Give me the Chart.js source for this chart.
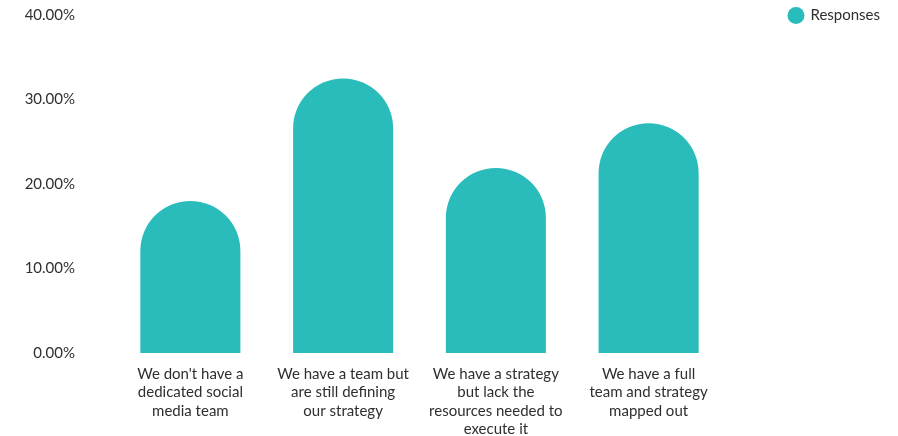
<!DOCTYPE html>
<html>
<head>
<meta charset="utf-8">
<title>Social media team and strategy</title>
<script src="https://cdn.jsdelivr.net/npm/chart.js@4"></script>
<style>
  html, body { margin: 0; padding: 0; background: #ffffff; }
  #wrap { width: 898px; height: 436px; }
</style>
</head>
<body>
<div id="wrap"><canvas id="chart" width="898" height="436"></canvas></div>
<script>
// Survey answers, one bar per answer
const categories = [
  ["We don't have a", "dedicated social", "media team"],
  ["We have a team but", "are still defining", "our strategy"],
  ["We have a strategy", "but lack the", "resources needed to", "execute it"],
  ["We have a full", "team and strategy", "mapped out"]
];
const seriesName = "Responses";
const responses = [18.0, 32.5, 21.9, 27.2];   // percent of respondents
const yTicks = [0, 10, 20, 30, 40];

const TEAL = "#29bcbb";
const INK = "#2f2f2f";
const FONT = "Lato, 'Open Sans', sans-serif";

new Chart(document.getElementById("chart"), {
  type: "bar",
  data: {
    labels: categories,
    datasets: [{
      label: seriesName,
      data: responses,
      backgroundColor: TEAL,
      hoverBackgroundColor: TEAL,
      borderWidth: 0,
      borderSkipped: "bottom",
      borderRadius: { topLeft: 50, topRight: 50, bottomLeft: 0, bottomRight: 0 },
      categoryPercentage: 1,
      barPercentage: 0.655
    }]
  },
  options: {
    responsive: false,
    animation: false,
    layout: { padding: { top: 0, left: 22, right: 8, bottom: 0 } },
    plugins: {
      tooltip: { enabled: false },
      legend: {
        position: "right",
        align: "start",
        labels: {
          usePointStyle: true,
          pointStyle: "circle",
          boxWidth: 14,
          boxHeight: 12,
          padding: 8,
          color: INK,
          font: { family: FONT, size: 15 }
        }
      }
    },
    scales: {
      x: {
        grid: { display: false, drawTicks: false },
        border: { display: false },
        ticks: {
          color: INK,
          padding: 12,
          maxRotation: 0,
          autoSkip: false,
          font: { family: FONT, size: 15, lineHeight: 1.22 }
        },
        afterFit: (s) => { s.height = 83; }
      },
      y: {
        min: yTicks[0],
        max: yTicks[yTicks.length - 1],
        grid: { display: false, drawTicks: false },
        border: { display: false },
        afterBuildTicks: (s) => { s.ticks = yTicks.map(v => ({ value: v })); },
        ticks: {
          color: INK,
          padding: 39,
          font: { family: FONT, size: 15 },
          callback: (v) => Number(v).toFixed(2) + "%"
        },
        // fixed axis width; top label only needs room for half its height
        afterFit: (s) => { s.width = 92; s.paddingTop = 15; s.paddingBottom = 0; }
      },
      gap: {
        position: "right",
        display: true,
        grid: { display: false, drawTicks: false },
        border: { display: false },
        ticks: { display: false },
        afterFit: (s) => { s.width = 56; }
      }
    }
  }
});
</script>
</body>
</html>
